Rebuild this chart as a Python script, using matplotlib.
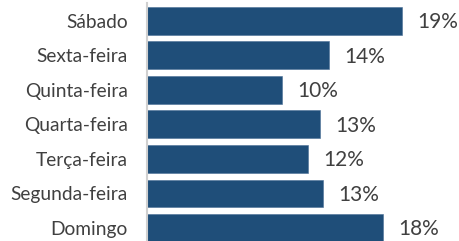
import matplotlib
matplotlib.use("Agg")
import matplotlib.pyplot as plt

DAYS = ["Domingo", "Segunda-feira", "Terça-feira", "Quarta-feira",
        "Quinta-feira", "Sexta-feira", "Sábado"]
SHARE = [17.6, 13.1, 12.0, 12.9, 10.1, 13.6, 19.0]

BAR = "#1F4E79"
TXT = "#404040"

plt.rcParams["font.family"] = ["Lato", "DejaVu Sans"]

fig = plt.figure(figsize=(4.6, 2.41), dpi=100)
ax = fig.add_axes([147 / 460, 0, 313 / 460, 238 / 241])

pos = list(range(len(DAYS)))
ax.barh(pos, SHARE, height=0.81, color=BAR, edgecolor="#4A6F96", linewidth=0.4)
for y, v in zip(pos, SHARE):
    ax.annotate(f"{v:.0f}%", xy=(v, y), xytext=(11, -1), textcoords="offset points",
                va="center", ha="left", fontsize=15, color=TXT)

ax.set_xlim(0, 23.35)
ax.set_ylim(-0.377, 6.52)
ax.set_yticks(pos)
ax.set_yticklabels(DAYS, fontsize=13.8, color=TXT)
ax.tick_params(axis="y", length=0, pad=14)
ax.set_xticks([])
for s in ["top", "right", "bottom"]:
    ax.spines[s].set_visible(False)
ax.spines["left"].set_color("#D0D0D0")
ax.spines["left"].set_linewidth(1.5)

fig.savefig("out.png", dpi=100)
